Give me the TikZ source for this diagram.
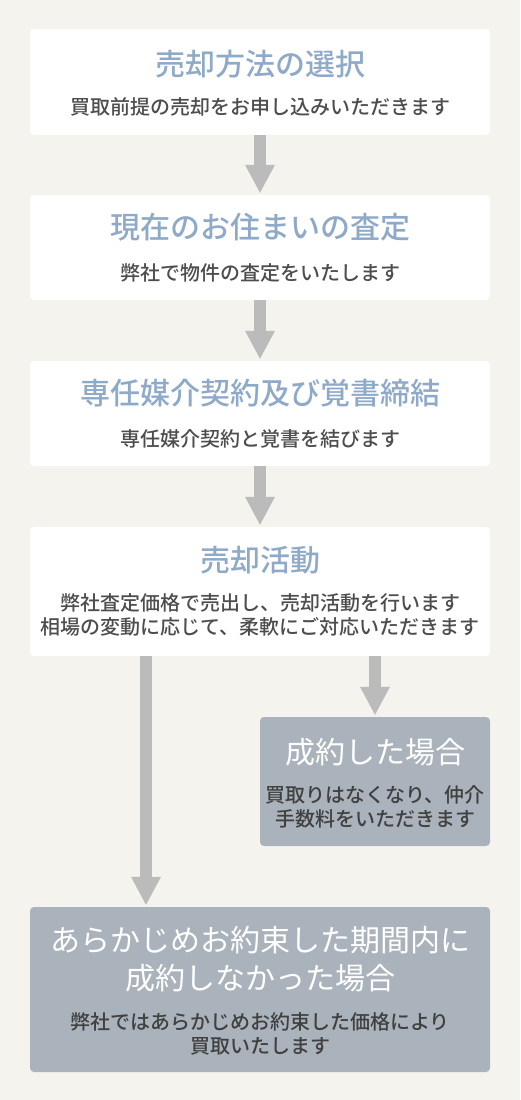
\documentclass[tikz,border=0pt]{standalone}
\usepackage{fontspec}
\setmainfont{Noto Sans CJK JP}
\newfontfamily\mediumfont{Noto Sans CJK JP Medium}
\usetikzlibrary{arrows.meta,positioning}
\definecolor{paper}{HTML}{F4F3EE}
\definecolor{headblue}{HTML}{8FAAC8}
\definecolor{notegray}{HTML}{4D4D4D}
\definecolor{endgray}{HTML}{AAB3BB}
\definecolor{flowgray}{HTML}{BBBBBB}
\tikzset{
    flow box/.style = {
        fill = white,
        rounded corners = 4pt,
        minimum width = 460pt,
        inner sep = 0pt,
        },
    end box/.style = {
        fill = endgray,
        rounded corners = 4pt,
        inner sep = 0pt,
        },
    head/.style = {
        inner sep = 0pt,
        align = center,
        text = headblue,
        font = \fontsize{30}{38}\selectfont\mediumfont,
        },
    end head/.style = {
        head,
        text = white,
        font = \fontsize{30}{38}\selectfont,
        },
    note/.style = {
        inner sep = 0pt,
        align = center,
        text = notegray,
        font = \fontsize{20}{24}\selectfont\mediumfont,
        },
    end note/.style = {
        note,
        text = black!75,
        },
    flow/.style = {
        draw = flowgray,
        line width = 12pt,
        -{Triangle[width=30pt, length=28pt, line width=0pt]},
        shorten >= 2pt,
    },
}
\begin{document}
\begin{tikzpicture}[x=1pt, y=-1pt]
            \fill[paper] (0,0) rectangle (520,1100);
            \useasboundingbox (0,0) rectangle (520,1100);

            \node[flow box, minimum height=106pt] (method) at (260,82) {};
            \node[head] (method title) at (260,64) {売却方法の選択};
            \node[note] (method note) at (260,107) {買取前提の売却をお申し込みいただきます};

            \node[flow box, minimum height=105pt] (assess) at (260,247.5) {};
            \node[head] (assess title) at (260,227) {現在のお住まいの査定};
            \node[note] (assess note) at (260,272.5) {弊社で物件の査定をいたします};

            \node[flow box, minimum height=105pt] (contract) at (260,413.5) {};
            \node[head] (contract title) at (260,393) {専任媒介契約及び覚書締結};
            \node[note] (contract note) at (260,438.5) {専任媒介契約と覚書を結びます};

            \node[flow box, minimum height=129pt] (sell) at (260,591.5) {};
            \node[head] (sell title) at (260,560) {売却活動};
            \node[note] (sell note) at (260,615) {弊社査定価格で売出し、売却活動を行います\\相場の変動に応じて、柔軟にご対応いただきます};

            \node[end box, minimum width=230pt, minimum height=129pt] (close) at (375,781.5) {};
            \node[end head] (close title) at (375,752) {成約した場合};
            \node[end note] (close note) at (375,807) {買取りはなくなり、仲介\\手数料をいただきます};

            \node[end box, minimum width=460pt, minimum height=165pt] (expire) at (260,989.5) {};
            \node[end head] (expire title) at (260,959) {あらかじめお約束した期間内に\\成約しなかった場合};
            \node[end note] (expire note) at (260,1033.5) {弊社ではあらかじめお約束した価格により\\買取いたします};

            \coordinate (skip) at (146,656);

            \path (method) edge[flow] (assess);
            \path (assess) edge[flow] (contract);
            \path (contract) edge[flow] (sell);
            \path (close.north |- sell.south) edge[flow] (close);
            \path (skip) edge[flow] (skip |- expire.north);
        \end{tikzpicture}
\end{document}
